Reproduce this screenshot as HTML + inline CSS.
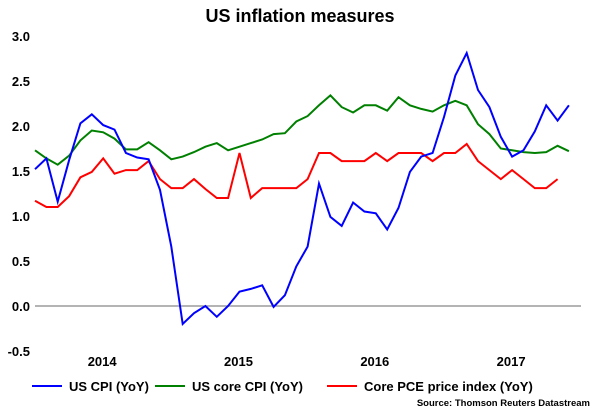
<!DOCTYPE html>
<html><head><meta charset="utf-8"><style>
body{margin:0;background:#fff;}
svg text{font-family:"Liberation Sans",Arial,sans-serif;font-weight:bold;fill:#000;}
</style></head><body>
<svg width="600" height="411" viewBox="0 0 600 411">
<text x="300" y="22" text-anchor="middle" font-size="18">US inflation measures</text>
<g id="yaxis"></g>
<g id="xaxis"></g>
<g id="series"></g>
<g>
<line x1="32" y1="386" x2="62" y2="386" stroke="#0000ff" stroke-width="2"/>
<text x="69" y="391" font-size="13">US CPI (YoY)</text>
<line x1="155" y1="386" x2="185" y2="386" stroke="#008000" stroke-width="2"/>
<text x="192" y="391" font-size="13">US core CPI (YoY)</text>
<line x1="327" y1="386" x2="357" y2="386" stroke="#ff0000" stroke-width="2"/>
<text x="364" y="391" font-size="13">Core PCE price index (YoY)</text>
</g>
<text x="590" y="406" text-anchor="end" font-size="9.5">Source: Thomson Reuters Datastream</text>
</svg>
<script>
const yTicks=[3.0,2.5,2.0,1.5,1.0,0.5,0.0,-0.5];
const yearLabels=["2014","2015","2016","2017"];
const usCpi=[1.52,1.64,1.16,1.62,2.03,2.13,2.01,1.96,1.70,1.65,1.63,1.29,0.66,-0.20,-0.08,0.0,-0.12,0.0,0.16,0.19,0.23,-0.01,0.12,0.44,0.66,1.36,0.99,0.89,1.15,1.05,1.03,0.85,1.09,1.49,1.66,1.70,2.10,2.56,2.81,2.40,2.21,1.88,1.66,1.73,1.94,2.23,2.06,2.23];
const usCoreCpi=[1.73,1.64,1.57,1.67,1.84,1.95,1.93,1.86,1.74,1.74,1.82,1.73,1.63,1.66,1.71,1.77,1.81,1.73,1.77,1.81,1.85,1.91,1.92,2.05,2.11,2.23,2.34,2.21,2.15,2.23,2.23,2.17,2.32,2.23,2.19,2.16,2.23,2.28,2.23,2.02,1.91,1.75,1.73,1.71,1.70,1.71,1.78,1.72];
const corePce=[1.17,1.10,1.10,1.22,1.43,1.49,1.64,1.47,1.51,1.51,1.61,1.41,1.31,1.31,1.41,1.30,1.20,1.20,1.70,1.20,1.31,1.31,1.31,1.31,1.41,1.70,1.70,1.61,1.61,1.61,1.70,1.61,1.70,1.70,1.70,1.61,1.70,1.70,1.80,1.61,1.51,1.41,1.51,1.41,1.31,1.31,1.41,null];
const NS="http://www.w3.org/2000/svg";
const x0=35,dx=11.36;
function xs(i){return x0+i*dx;}
function ys(v){return 306-v*90;}
const ya=document.getElementById('yaxis');
yTicks.forEach(t=>{
 const tx=document.createElementNS(NS,'text');
 tx.setAttribute('x',30);tx.setAttribute('y',ys(t)+5);
 tx.setAttribute('text-anchor','end');tx.setAttribute('font-size','13');
 tx.textContent=t.toFixed(1);
 
 
 ya.appendChild(tx);
});
const zl=document.createElementNS(NS,'line');
zl.setAttribute('x1',35);zl.setAttribute('x2',581);zl.setAttribute('y1',ys(0));zl.setAttribute('y2',ys(0));
zl.setAttribute('stroke','#888');zl.setAttribute('stroke-width','1.2');


ya.appendChild(zl);
const xa=document.getElementById('xaxis');
yearLabels.forEach((y,k)=>{
 const tx=document.createElementNS(NS,'text');
 tx.setAttribute('x',xs(6+12*k)-1);tx.setAttribute('y',366);
 tx.setAttribute('text-anchor','middle');tx.setAttribute('font-size','13');
 tx.textContent=y;
 
 
 xa.appendChild(tx);
});
const sg=document.getElementById('series');
function draw(arr,color,name){
 let d='';let started=false;
 arr.forEach((v,i)=>{if(v===null)return;d+=(started?'L':'M')+xs(i).toFixed(1)+','+ys(v).toFixed(1);started=true;});
 const p=document.createElementNS(NS,'path');
 p.setAttribute('d',d);p.setAttribute('fill','none');p.setAttribute('stroke',color);p.setAttribute('stroke-width','2');
 
 
 sg.appendChild(p);
}
draw(corePce,'#ff0000','core-pce-line');
draw(usCoreCpi,'#008000','us-core-cpi-line');
draw(usCpi,'#0000ff','us-cpi-line');
</script>
</body></html>
